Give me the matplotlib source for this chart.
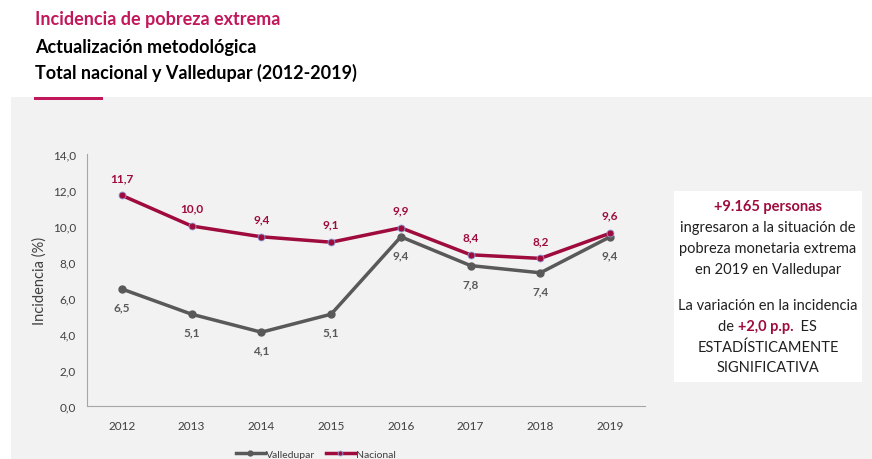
import matplotlib.pyplot as plt
from matplotlib.patches import Rectangle
from matplotlib.ticker import FuncFormatter

years = ["2012", "2013", "2014", "2015", "2016", "2017", "2018", "2019"]
valledupar = [6.5, 5.1, 4.1, 5.1, 9.4, 7.8, 7.4, 9.4]
nacional = [11.7, 10.0, 9.4, 9.1, 9.9, 8.4, 8.2, 9.6]

RED = "#9E0B3C"
GRAY = "#595959"
PINK = "#C2185B"
BG = "#F2F2F2"

plt.rcParams["font.family"] = ["Lato", "DejaVu Sans"]

fig = plt.figure(figsize=(8.72, 4.6), dpi=100)
fig.patch.set_facecolor("white")

# gray panel
fig.patches.append(Rectangle((11 / 872, 0), 1, (460 - 98) / 460, transform=fig.transFigure,
                             facecolor=BG, edgecolor="none", zorder=0))
# red underline
fig.patches.append(Rectangle((34 / 872, (460 - 101) / 460), 69 / 872, 2.5 / 460,
                             transform=fig.transFigure, facecolor=PINK, edgecolor="none", zorder=1))

# titles
fig.text(35 / 872, 1 - 20 / 460, "Incidencia de pobreza extrema", color=PINK,
         fontsize=13, fontweight="bold", va="center")
fig.text(35 / 872, 1 - 48 / 460, "Actualización metodológica", color="black",
         fontsize=13, fontweight="bold", va="center")
fig.text(35 / 872, 1 - 73 / 460, "Total nacional y Valledupar (2012-2019)", color="black",
         fontsize=13, fontweight="bold", va="center")

ax = fig.add_axes([87 / 872, 53 / 460, (645 - 87) / 872, (407 - 155) / 460])
ax.set_zorder(3)
ax.set_facecolor("none")
x = list(range(len(years)))
ax.plot(x, valledupar, color=GRAY, lw=2.5, marker="o", ms=5, label="Valledupar", zorder=3)
ax.plot(x, nacional, color=RED, lw=2.5, marker="o", ms=5, markeredgecolor="#8FA0D8",
        markeredgewidth=0.6, label="Nacional", zorder=3)

for xi, v in zip(x, nacional):
    ax.annotate(f"{v:.1f}".replace(".", ","), (xi, v), xytext=(0, 9), textcoords="offset points",
                ha="center", va="bottom", color=RED, fontsize=8.5, fontweight="bold")
for xi, v in zip(x, valledupar):
    ax.annotate(f"{v:.1f}".replace(".", ","), (xi, v), xytext=(0, -9), textcoords="offset points",
                ha="center", va="top", color=GRAY, fontsize=8.5, fontweight="bold")

ax.set_xlim(-0.5, 7.5)
ax.set_ylim(0, 14)
ax.set_yticks([0, 2, 4, 6, 8, 10, 12, 14])
ax.yaxis.set_major_formatter(FuncFormatter(lambda v, p: f"{v:.1f}".replace(".", ",")))
ax.set_xticks(x)
ax.set_xticklabels(years)
ax.tick_params(length=0, labelsize=8.5, colors="#404040", pad=10)
ax.tick_params(axis="y", pad=8)
for s in ["top", "right"]:
    ax.spines[s].set_visible(False)
for s in ["left", "bottom"]:
    ax.spines[s].set_color("#A6A6A6")
ax.set_ylabel("Incidencia (%)", fontsize=10.5, color="#404040", labelpad=4)

leg = ax.legend(loc="upper center", bbox_to_anchor=(0.41, -0.135), ncol=2, frameon=False,
                fontsize=7.5, handlelength=2.8, columnspacing=1.0, handletextpad=0.1,
                labelcolor="#404040", markerscale=0.7)

# text box
fig.patches.append(Rectangle((674 / 872, (460 - 383) / 460), 188 / 872, 191 / 460,
                             transform=fig.transFigure, facecolor="white", edgecolor="none", zorder=1))
cx = 768 / 872
FS = 10.5
lines = [
    (207, "+9.165 personas", RED, "bold"),
    (228, "ingresaron a la situación de", "#202020", "normal"),
    (249, "pobreza monetaria extrema", "#202020", "normal"),
    (270, "en 2019 en Valledupar", "#202020", "normal"),
    (306, "La variación en la incidencia", "#202020", "normal"),
    (348, "ESTADÍSTICAMENTE", "#202020", "normal"),
    (368, "SIGNIFICATIVA", "#202020", "normal"),
]
for y, t, c, w in lines:
    fig.text(cx, 1 - y / 460, t, color=c, fontweight=w, fontsize=FS, ha="center", va="center",
             zorder=2)
# mixed line
t1 = fig.text(718 / 872, 1 - 327 / 460, "de ", color="#202020", fontsize=FS, ha="left",
              va="center", zorder=2)
a2 = plt.annotate("+2,0 p.p.", xy=(1, 0), xycoords=t1, va="bottom", ha="left", color=RED,
                  fontsize=FS, fontweight="bold", annotation_clip=False)
a3 = plt.annotate("  ES", xy=(1, 0), xycoords=a2, va="bottom", ha="left", color="#202020",
                  fontsize=FS, annotation_clip=False)

fig.savefig("out.png", dpi=100)
